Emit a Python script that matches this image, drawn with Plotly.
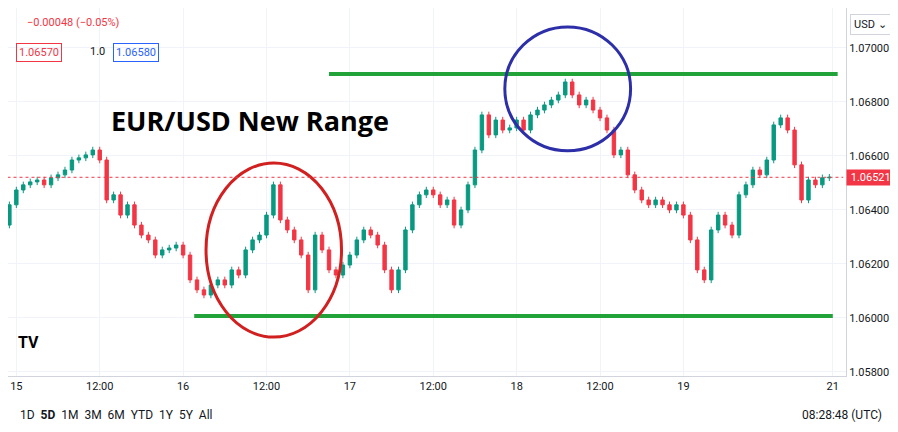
import plotly.graph_objects as go

# hourly closes, hour 0 = 15th 00:00 UTC (first bar at hour -2)
closes = [1.06344, 1.06419, 1.06474, 1.06493, 1.06504, 1.06511, 1.06493, 1.06519, 1.06530, 1.06548,
          1.06585, 1.06593, 1.06604, 1.06622, 1.06585, 1.06437, 1.06456, 1.06381, 1.06419, 1.06344,
          1.06307, 1.06289, 1.06233, 1.06252, 1.06259, 1.06270, 1.06233, 1.06141, 1.06104, 1.06085,
          1.06122, 1.06141, 1.06122, 1.06178, 1.06159, 1.06252, 1.06289, 1.06307, 1.06381, 1.06493,
          1.06363, 1.06326, 1.06289, 1.06233, 1.06104, 1.06307, 1.06252, 1.06178, 1.06159, 1.06196,
          1.06233, 1.06289, 1.06326, 1.06307, 1.06270, 1.06178, 1.06104, 1.06178, 1.06326, 1.06419,
          1.06456, 1.06474, 1.06456, 1.06419, 1.06437, 1.06344, 1.06400, 1.06493, 1.06622, 1.06752,
          1.06678, 1.06733, 1.06696, 1.06704, 1.06733, 1.06696, 1.06752, 1.06770, 1.06789, 1.06807,
          1.06826, 1.06874, 1.06826, 1.06789, 1.06807, 1.06770, 1.06741, 1.06696, 1.06604, 1.06622,
          1.06530, 1.06474, 1.06437, 1.06419, 1.06437, 1.06419, 1.06400, 1.06419, 1.06381, 1.06289,
          1.06178, 1.06141, 1.06326, 1.06381, 1.06344, 1.06307, 1.06456, 1.06493, 1.06548, 1.06530,
          1.06585, 1.06715, 1.06741, 1.06696, 1.06567, 1.06437, 1.06511, 1.06493, 1.06519, 1.06521]
wick = 0.00012
hours = list(range(-2, -2 + len(closes)))
tick_pos = [0, 12, 24, 36, 48, 60, 72, 84, 96, 117.5]
tick_text = ["15", "12:00", "16", "12:00", "17", "12:00", "18", "12:00", "19", "21"]
range_top, range_bottom = 1.06904, 1.06007
last_price = 1.06521

opens = [closes[0]] + closes[:-1]
highs = [max(o, c) + wick for o, c in zip(opens, closes)]
lows = [min(o, c) - wick for o, c in zip(opens, closes)]

fig = go.Figure(go.Candlestick(
    x=hours, open=opens, high=highs, low=lows, close=closes,
    increasing=dict(line=dict(color="#089981", width=1), fillcolor="#089981"),
    decreasing=dict(line=dict(color="#f23645", width=1), fillcolor="#f23645"),
    whiskerwidth=0, showlegend=False))

# range lines
fig.add_shape(type="line", x0=45, x1=118.2, y0=range_top, y1=range_top, line=dict(color="#21a33a", width=4))
fig.add_shape(type="line", x0=25.6, x1=117.5, y0=range_bottom, y1=range_bottom, line=dict(color="#21a33a", width=4))
# circles
fig.add_shape(type="circle", x0=27.3, x1=46.8, y0=1.05929, y1=1.06574, line=dict(color="#d0201f", width=3))
fig.add_shape(type="circle", x0=70.3, x1=88.4, y0=1.06619, y1=1.07078, line=dict(color="#2c2fa8", width=3))
# last price dotted line
fig.add_shape(type="line", x0=-3, x1=119, y0=last_price, y1=last_price, line=dict(color="#f23645", width=1, dash="dot"))

fig.add_annotation(x=0.12, y=0.75, xref="paper", yref="paper", text="<b>EUR/USD New Range</b>",
                   showarrow=False, xanchor="left", font=dict(size=27, color="black", family="Open Sans"))
fig.add_annotation(x=1.0, y=last_price, xref="paper", yref="y", text=" 1.06521 ", showarrow=False,
                   xanchor="left", bgcolor="#f23645", font=dict(color="white", size=11))
fig.add_annotation(x=0.02, y=0.985, xref="paper", yref="paper", text="<span style='color:#f23645'>−0.00048 (−0.05%)</span>",
                   showarrow=False, xanchor="left", font=dict(size=11))
fig.add_annotation(x=0.01, y=0.905, xref="paper", yref="paper", text="1.06570", showarrow=False, xanchor="left",
                   bordercolor="#f23645", borderpad=2, font=dict(size=11, color="#f23645"))
fig.add_annotation(x=0.095, y=0.905, xref="paper", yref="paper", text="1.0", showarrow=False, xanchor="left",
                   font=dict(size=11, color="#131722"))
fig.add_annotation(x=0.125, y=0.905, xref="paper", yref="paper", text="1.06580", showarrow=False, xanchor="left",
                   bordercolor="#2962ff", borderpad=2, font=dict(size=11, color="#2962ff"))
fig.add_annotation(x=1.005, y=0.985, xref="paper", yref="paper", text="USD ⌄", showarrow=False, xanchor="left",
                   bordercolor="#d1d4dc", borderpad=3, font=dict(size=11, color="#131722"))
fig.add_annotation(x=0.012, y=-0.13, xref="paper", yref="paper", showarrow=False, xanchor="left",
                   text="1D  <b>5D</b>  1M  3M  6M  YTD  1Y  5Y  All", font=dict(size=12, color="#131722"))
fig.add_annotation(x=1.045, y=-0.13, xref="paper", yref="paper", showarrow=False, xanchor="right",
                   text="08:28:48 (UTC)", font=dict(size=12, color="#131722"))
fig.add_annotation(x=0.01, y=0.06, xref="paper", yref="paper", showarrow=False, xanchor="left",
                   text="<b>TV</b>", font=dict(size=16, color="black"))

fig.update_layout(
    width=898, height=432, margin=dict(l=0, r=60, t=0, b=64),
    paper_bgcolor="white", plot_bgcolor="white",
    font=dict(family="Roboto", size=11, color="#131722"),
    xaxis=dict(range=[-1.2, 119.4], tickvals=tick_pos, ticktext=tick_text, showgrid=True, gridcolor="#f0f3fa",
               rangeslider=dict(visible=False), showline=True, linecolor="#d1d4dc", ticks="", zeroline=False),
    yaxis=dict(range=[1.05785, 1.07148], side="right", dtick=0.002, tickformat=".5f", showgrid=True,
               gridcolor="#f0f3fa", showline=True, linecolor="#d1d4dc", zeroline=False),
)

fig.write_html("out.html")
